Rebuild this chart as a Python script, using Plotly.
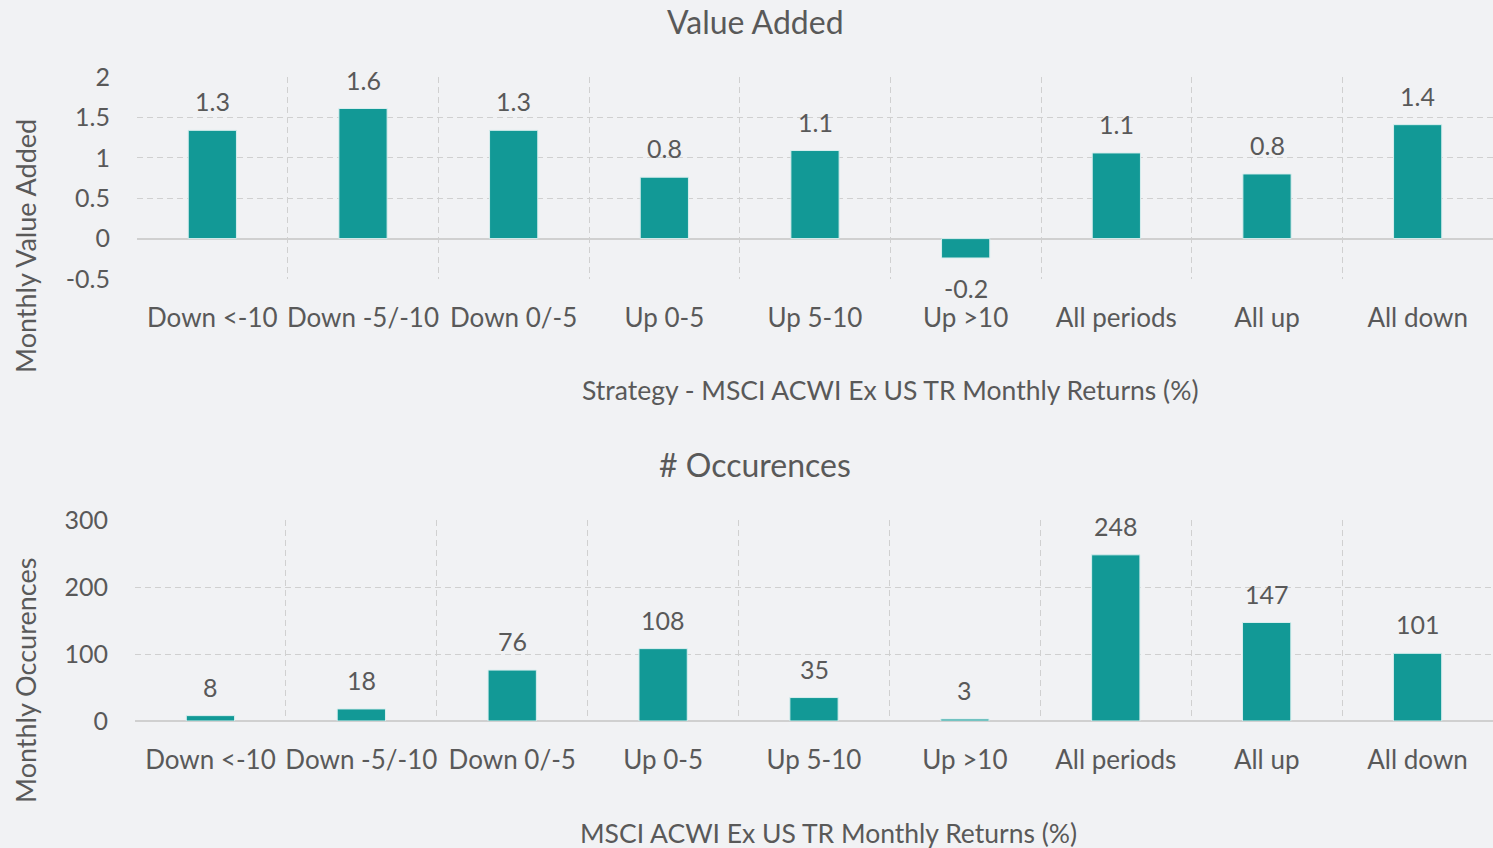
import plotly.graph_objects as go

categories = ["Down <-10", "Down -5/-10", "Down 0/-5", "Up 0-5", "Up 5-10", "Up >10",
              "All periods", "All up", "All down"]
value_added = [1.34, 1.61, 1.34, 0.76, 1.09, -0.24, 1.06, 0.80, 1.41]
occurrences = [8, 18, 76, 108, 35, 3, 248, 147, 101]
va_ticks = [-0.5, 0, 0.5, 1, 1.5, 2]
va_ticktext = ["-0.5", "0", "0.5", "1", "1.5", "2"]
occ_ticks = [0, 100, 200, 300]

BAR = "#129996"
TXT = "#595959"
GRID = "#d0d0d0"
FONT = "Lato"
XTICK_SIZE = 26
YTICK_SIZE = 25
LABEL_SIZE = 25

fig = go.Figure()
fig.add_trace(go.Bar(x=categories, y=value_added, marker_color=BAR, xaxis="x", yaxis="y",
                     marker_line=dict(color="#d8eeee", width=1),
                     showlegend=False, hoverinfo="x+y"))
fig.add_trace(go.Bar(x=categories, y=occurrences, marker_color=BAR, xaxis="x2", yaxis="y2",
                     marker_line=dict(color="#d8eeee", width=1),
                     showlegend=False, hoverinfo="x+y"))

annotations = []
for c, v in zip(categories, value_added):
    annotations.append(dict(x=c, y=v, xref="x", yref="y",
                            text=f"{v:.1f}", showarrow=False,
                            yanchor="bottom" if v >= 0 else "top",
                            yshift=12 if v >= 0 else -13,
                            font=dict(size=LABEL_SIZE, color=TXT, family=FONT)))
for c, v in zip(categories, occurrences):
    annotations.append(dict(x=c, y=v, xref="x2", yref="y2", text=str(v), showarrow=False,
                            yanchor="bottom", yshift=12,
                            font=dict(size=LABEL_SIZE, color=TXT, family=FONT)))

def txt(text, x, y, size, angle=0):
    return dict(text=text, x=x, y=y, xref="paper", yref="paper", showarrow=False,
                xanchor="center", yanchor="middle", textangle=angle,
                font=dict(size=size, color=TXT, family=FONT))

H, W = 848, 1493
annotations += [
    txt("Value Added", 755 / W, 1 - 21 / H, 32),
    txt("# Occurences", 755 / W, 1 - 464 / H, 32),
    txt("Monthly Value Added", 25 / W, 1 - 246 / H, 27, -90),
    txt("Monthly Occurences", 25 / W, 1 - 681 / H, 27, -90),
    txt("Strategy - MSCI ACWI Ex US TR Monthly Returns (%)", 890 / W, 1 - 390 / H, 26.5),
    txt("MSCI ACWI Ex US TR Monthly Returns (%)", 829 / W, 1 - 833 / H, 26.5),
]

xcommon = dict(type="category", tickson="boundaries", showgrid=True, gridcolor=GRID,
               griddash="6px,4px", gridwidth=1, ticks="", showline=False, zeroline=False,
               automargin=False, tickangle=0,
               tickfont=dict(size=XTICK_SIZE, color=TXT, family=FONT), ticklabelstandoff=21)
ycommon = dict(showgrid=True, gridcolor=GRID, griddash="6px,4px", gridwidth=1, ticks="",
               zeroline=True, zerolinecolor=GRID, zerolinewidth=2, showline=False,
               automargin=False,
               tickfont=dict(size=YTICK_SIZE, color=TXT, family=FONT), ticklabelstandoff=26)

fig.update_layout(
    width=W, height=H,
    margin=dict(l=0, r=0, t=0, b=0, autoexpand=False),
    paper_bgcolor="#f1f2f4", plot_bgcolor="rgba(0,0,0,0)",
    bargap=0.68,
    font=dict(family=FONT, color=TXT),
    xaxis=dict(domain=[137 / W, 1.0], anchor="y", **xcommon),
    yaxis=dict(domain=[1 - 279 / H, 1 - 77 / H], anchor="x", range=[-0.5, 2.0],
               tickvals=va_ticks, ticktext=va_ticktext, **ycommon),
    xaxis2=dict(domain=[135 / W, 1.0], anchor="y2", **xcommon),
    yaxis2=dict(domain=[1 - 721 / H, 1 - 520 / H], anchor="x2", range=[0, 300],
                tickvals=occ_ticks, **ycommon),
    annotations=annotations,
)

fig.write_html("out.html", config={"displayModeBar": False},
               post_script="document.body.style.margin='0';document.body.style.overflow='hidden';")
